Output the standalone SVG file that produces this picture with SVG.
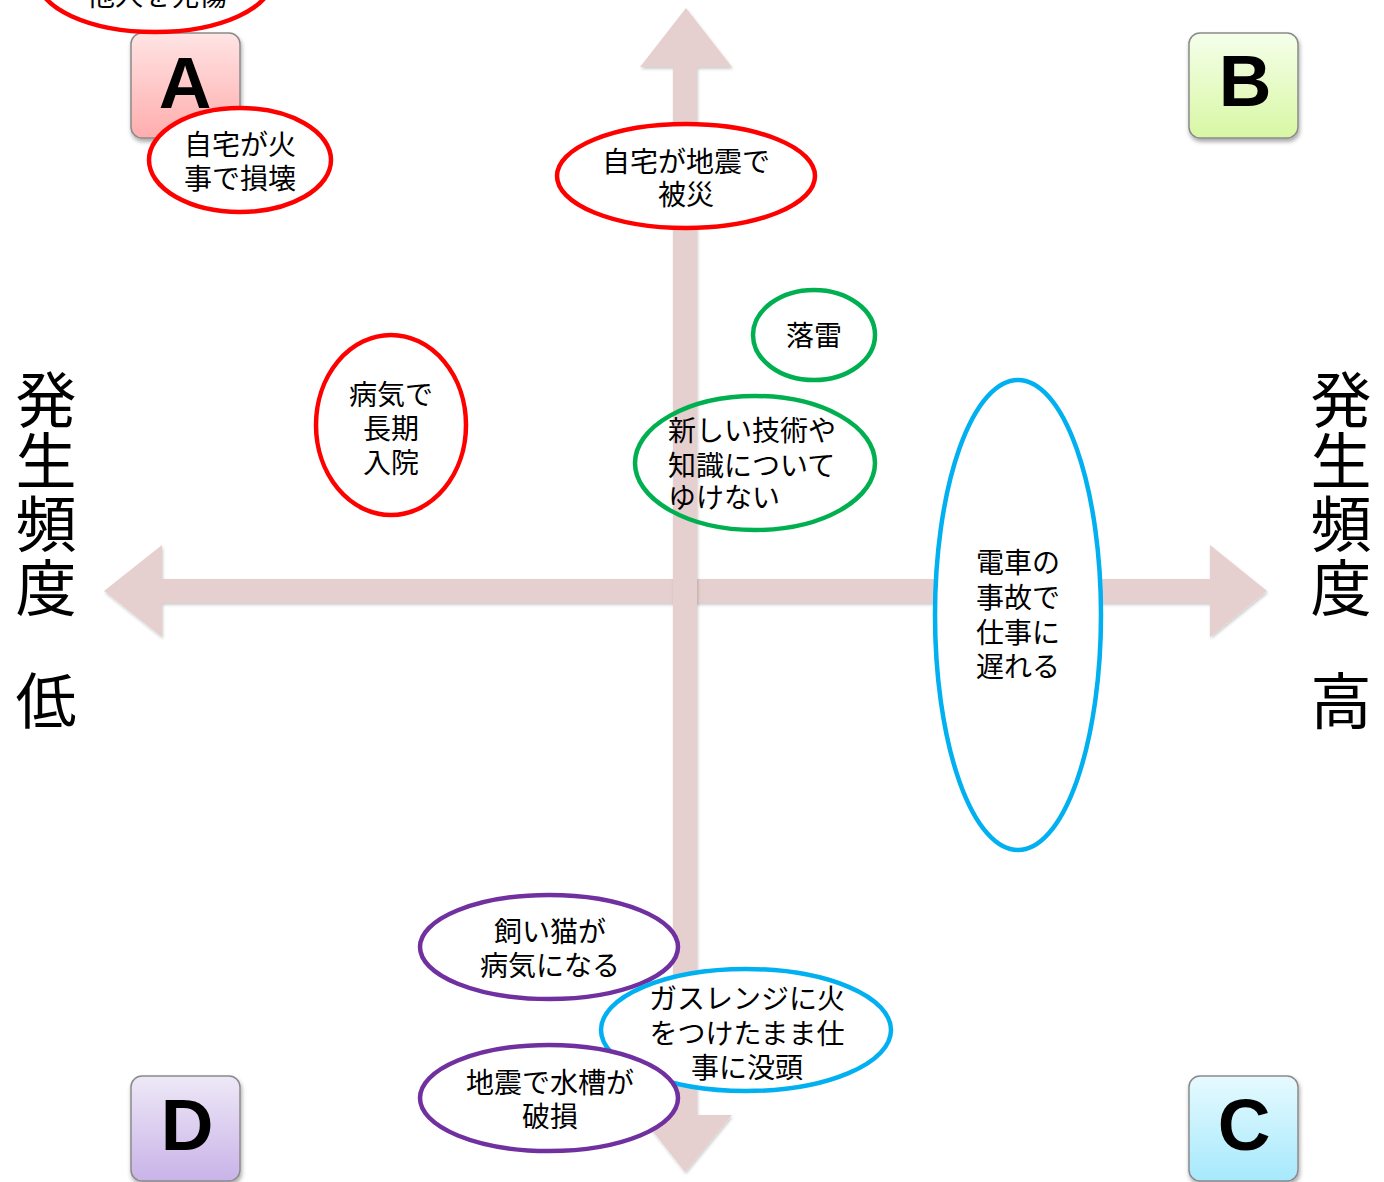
<svg xmlns="http://www.w3.org/2000/svg" width="1384" height="1182" viewBox="0 0 1384 1182">
  <defs>
    <linearGradient id="gA" x1="0" y1="0" x2="0" y2="1">
      <stop offset="0" stop-color="#ffe4e4"/>
      <stop offset="1" stop-color="#ffadad"/>
    </linearGradient>
    <linearGradient id="gB" x1="0" y1="0" x2="0" y2="1">
      <stop offset="0" stop-color="#f5ffea"/>
      <stop offset="1" stop-color="#d8f7a4"/>
    </linearGradient>
    <linearGradient id="gC" x1="0" y1="0" x2="0" y2="1">
      <stop offset="0" stop-color="#e6faff"/>
      <stop offset="1" stop-color="#a6e9fc"/>
    </linearGradient>
    <linearGradient id="gD" x1="0" y1="0" x2="0" y2="1">
      <stop offset="0" stop-color="#eee8f7"/>
      <stop offset="1" stop-color="#c9b3e8"/>
    </linearGradient>
    <filter id="shadow" x="-20%" y="-20%" width="150%" height="150%">
      <feDropShadow dx="1" dy="3" stdDeviation="2" flood-color="#000" flood-opacity="0.35"/>
    </filter>
    <filter id="ashadow" x="-5%" y="-5%" width="110%" height="110%">
      <feDropShadow dx="1" dy="2" stdDeviation="1.5" flood-color="#000" flood-opacity="0.2"/>
    </filter>
  </defs>
  <style>
    .arrow { fill: #e6cfcf; filter: url(#ashadow); }
    .box { stroke: #8a8a8a; stroke-width: 1.5; filter: url(#shadow); }
    .letter { font-family: "Liberation Sans", Arial, sans-serif; font-weight: bold; font-size: 73px; fill: #000; text-anchor: middle; }
    .ell { fill: #fff; stroke-width: 4.5; }
    .ell-open { fill: none; stroke-width: 4.5; }
    .red { stroke: #ff0000; }
    .green { stroke: #00b050; }
    .cyan { stroke: #00b0f0; }
    .purple { stroke: #7030a0; }
    .t { font-family: "Noto Sans CJK JP", "Noto Sans CJK SC", sans-serif; font-size: 28px; fill: #000; text-anchor: middle; }
    .ts { font-family: "Noto Sans CJK JP", "Noto Sans CJK SC", sans-serif; font-size: 28px; fill: #000; text-anchor: start; }
    .side { font-family: "Noto Sans CJK JP", "Noto Sans CJK SC", sans-serif; font-size: 61px; fill: #000; text-anchor: middle; }
  </style>

  <g id="connectors">
    <polygon class="arrow" points="104,591 162,545 162,579 1210,579 1210,545 1267,591 1210,637 1210,603 162,603 162,637"/>
    <polygon class="arrow" points="686,8 732,67 697,67 697,1115 732,1115 685,1172 640,1115 673,1115 673,67 640,67"/>
  </g>

  <g id="axis-left">
    <text class="side" x="46" y="423">発</text>
    <text class="side" x="46" y="484">生</text>
    <text class="side" x="46" y="547">頻</text>
    <text class="side" x="46" y="611">度</text>
    <text class="side" x="46" y="724">低</text>
  </g>
  <g id="axis-right">
    <text class="side" x="1341" y="423">発</text>
    <text class="side" x="1341" y="484">生</text>
    <text class="side" x="1341" y="547">頻</text>
    <text class="side" x="1341" y="611">度</text>
    <text class="side" x="1341" y="724">高</text>
  </g>

  <g id="box-A">
    <rect class="box" x="131" y="33" width="109" height="105" rx="11" fill="url(#gA)"/>
    <text class="letter" x="185" y="108">A</text>
  </g>
  <g id="box-B">
    <rect class="box" x="1189" y="33" width="109" height="105" rx="11" fill="url(#gB)"/>
    <text class="letter" x="1245" y="106">B</text>
  </g>
  <g id="box-D">
    <rect class="box" x="131" y="1076" width="109" height="105" rx="11" fill="url(#gD)"/>
    <text class="letter" x="187" y="1150">D</text>
  </g>
  <g id="box-C">
    <rect class="box" x="1189" y="1076" width="109" height="105" rx="11" fill="url(#gC)"/>
    <text class="letter" x="1244" y="1150">C</text>
  </g>

  <g id="node-tanin">
    <ellipse class="ell red" cx="155" cy="-22" rx="118" ry="54"/>
    <text class="t" x="157" y="6">他人を死傷</text>
  </g>

  <g id="node-kaji">
    <ellipse class="ell red" cx="240" cy="160" rx="91" ry="52"/>
    <text class="t" x="240" y="155">自宅が火</text>
    <text class="t" x="240" y="189">事で損壊</text>
  </g>

  <g id="node-jishin">
    <ellipse class="ell red" cx="686" cy="176" rx="129" ry="52"/>
    <text class="t" x="686" y="172">自宅が地震で</text>
    <text class="t" x="686" y="205">被災</text>
  </g>

  <g id="node-byoki">
    <ellipse class="ell red" cx="391" cy="425" rx="75" ry="90"/>
    <text class="t" x="391" y="405">病気で</text>
    <text class="t" x="391" y="439">長期</text>
    <text class="t" x="391" y="473">入院</text>
  </g>

  <g id="node-rakurai">
    <ellipse class="ell green" cx="814" cy="335" rx="61" ry="45"/>
    <text class="t" x="814" y="346">落雷</text>
  </g>

  <g id="node-gijutsu">
    <ellipse class="ell-open green" cx="755" cy="463" rx="120" ry="67"/>
    <text class="ts" x="668" y="441">新しい技術や</text>
    <text class="ts" x="668" y="476">知識について</text>
    <text class="ts" x="668" y="508">ゆけない</text>
  </g>

  <g id="node-densha">
    <ellipse class="ell cyan" cx="1018" cy="615" rx="83" ry="235"/>
    <text class="t" x="1018" y="573">電車の</text>
    <text class="t" x="1018" y="608">事故で</text>
    <text class="t" x="1018" y="643">仕事に</text>
    <text class="t" x="1018" y="677">遅れる</text>
  </g>

  <g id="node-neko">
    <ellipse class="ell purple" cx="549" cy="947" rx="129" ry="52"/>
    <text class="t" x="550" y="942">飼い猫が</text>
    <text class="t" x="550" y="976">病気になる</text>
  </g>

  <g id="node-gas">
    <ellipse class="ell cyan" cx="746" cy="1030" rx="145" ry="61"/>
    <text class="t" x="747" y="1009">ガスレンジに火</text>
    <text class="t" x="747" y="1044">をつけたまま仕</text>
    <text class="t" x="747" y="1078">事に没頭</text>
  </g>

  <g id="node-suiso">
    <ellipse class="ell purple" cx="549" cy="1098" rx="129" ry="53"/>
    <text class="t" x="550" y="1093">地震で水槽が</text>
    <text class="t" x="550" y="1127">破損</text>
  </g>
</svg>
